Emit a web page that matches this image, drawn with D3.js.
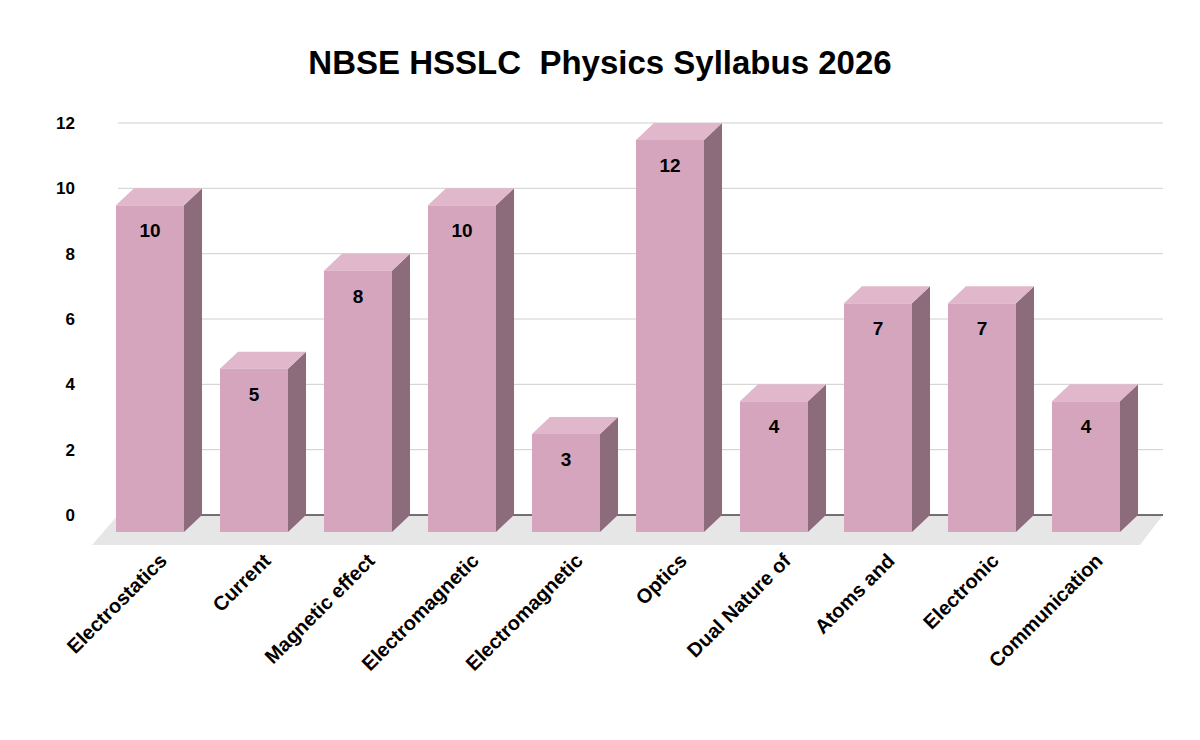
<!DOCTYPE html>
<html><head><meta charset="utf-8">
<script src="https://cdn.jsdelivr.net/npm/d3@7"></script>
<style>body{margin:0;background:#fff}text{font-family:"Liberation Sans",Arial,sans-serif}</style>
</head><body><svg id="c" width="1200" height="740"></svg>
<script>
const categories=["Electrostatics","Current","Magnetic effect","Electromagnetic","Electromagnetic","Optics","Dual Nature of","Atoms and","Electronic","Communication"];
const values=[10,5,8,10,3,12,4,7,7,4];
const yTicks=[0,2,4,6,8,10,12];
const svg=d3.select("#c");
const dx=18,dy=17;
const x=d3.scaleBand().domain(d3.range(categories.length)).range([98,1138]).paddingInner(0.346).paddingOuter(0.173);
const y=d3.scaleLinear().domain([0,12]).range([515,123]);
svg.append("text").attr("x",600).attr("y",74).attr("text-anchor","middle").attr("font-size",33).attr("font-weight","bold").attr("xml:space","preserve").style("white-space","pre").text("NBSE HSSLC  Physics Syllabus 2026");
svg.append("path").attr("d","M118,515L1163,515L1140,545L92,545Z").attr("fill","#e6e6e6");
svg.selectAll(".g").data(yTicks).enter().append("line").attr("x1",118).attr("x2",1163).attr("y1",d=>y(d)).attr("y2",d=>y(d)).attr("stroke",d=>d===0?"#444":"#cfcfcf").attr("stroke-width",d=>d===0?1.5:1);
svg.selectAll(".t").data(yTicks).enter().append("text").attr("x",75).attr("y",d=>y(d)+6).attr("text-anchor","end").attr("font-size",17).attr("font-weight","bold").text(d=>d);
const w=x.bandwidth();
const g=svg.selectAll(".b").data(values).enter().append("g");
g.append("path").attr("fill","#8c6b7a").attr("d",(v,i)=>{const x1=x(i)+w,yt=y(v)+dy,yb=y(0)+dy;return `M${x1},${yt}L${x1+dx},${yt-dy}L${x1+dx},${yb-dy}L${x1},${yb}Z`;});
g.append("path").attr("fill","#e0b7cb").attr("d",(v,i)=>{const x0=x(i),yt=y(v)+dy;return `M${x0},${yt}L${x0+dx},${yt-dy}L${x0+w+dx},${yt-dy}L${x0+w},${yt}Z`;});
g.append("rect").attr("fill","#d4a5bd").attr("x",(v,i)=>x(i)).attr("width",w).attr("y",v=>y(v)+dy).attr("height",v=>y(0)-y(v));
g.append("text").attr("x",(v,i)=>x(i)+w/2).attr("y",v=>y(v)+dy+32).attr("text-anchor","middle").attr("font-size",19).attr("font-weight","bold").text(v=>v);
svg.selectAll(".c").data(categories).enter().append("text").attr("font-size",20).attr("font-weight","bold").attr("text-anchor","end")
 .attr("transform",(d,i)=>`translate(${x(i)+w/2+18},${562}) rotate(-45)`).text(d=>d);
</script></body></html>
